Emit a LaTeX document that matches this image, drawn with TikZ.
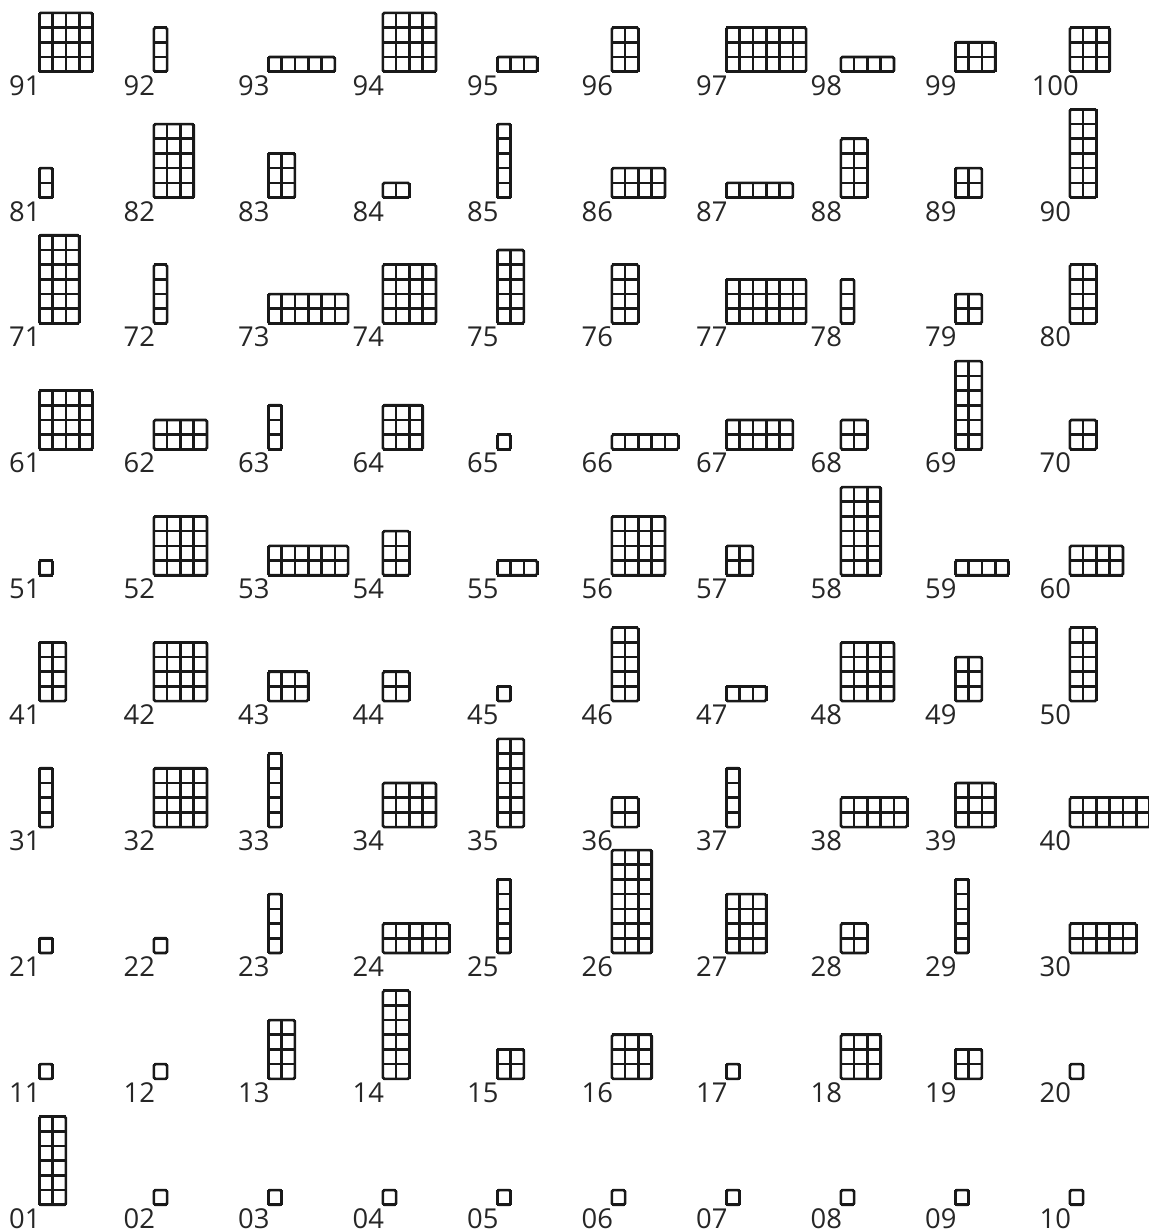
\documentclass[tikz,border=0pt]{standalone}
\usepackage{fontspec}
\setmainfont{Open Sans}
\usepackage{xcolor}
\tikzset{
  numlabel/.style  = {anchor=base, inner sep=0pt, text=black!85,
                      font=\fontsize{13.7}{16}\selectfont},
  blockgrid/.style = {line width=1.3pt, draw=black!90},
  blockedge/.style = {line width=1.3pt, draw=black!90, rounded corners=0.8pt},
}

\begin{document}
\begin{tikzpicture}[x=0.5pt, y=0.5pt]
  \useasboundingbox (0,0) rectangle (1149,1231);
  % number / columns / rows, 01 is bottom left
  \foreach \n/\c/\r in {
      1/2/6, 2/1/1, 3/1/1, 4/1/1, 5/1/1, 6/1/1, 7/1/1, 8/1/1, 9/1/1, 10/1/1,
      11/1/1, 12/1/1, 13/2/4, 14/2/6, 15/2/2, 16/3/3, 17/1/1, 18/3/3, 19/2/2, 20/1/1,
      21/1/1, 22/1/1, 23/1/4, 24/5/2, 25/1/5, 26/3/7, 27/3/4, 28/2/2, 29/1/5, 30/5/2,
      31/1/4, 32/4/4, 33/1/5, 34/4/3, 35/2/6, 36/2/2, 37/1/4, 38/5/2, 39/3/3, 40/6/2,
      41/2/4, 42/4/4, 43/3/2, 44/2/2, 45/1/1, 46/2/5, 47/3/1, 48/4/4, 49/2/3, 50/2/5,
      51/1/1, 52/4/4, 53/6/2, 54/2/3, 55/3/1, 56/4/4, 57/2/2, 58/3/6, 59/4/1, 60/4/2,
      61/4/4, 62/4/2, 63/1/3, 64/3/3, 65/1/1, 66/5/1, 67/5/2, 68/2/2, 69/2/6, 70/2/2,
      71/3/6, 72/1/4, 73/6/2, 74/4/4, 75/2/5, 76/2/4, 77/6/3, 78/1/3, 79/2/2, 80/2/4,
      81/1/2, 82/3/5, 83/2/3, 84/2/1, 85/1/5, 86/4/2, 87/5/1, 88/2/4, 89/2/2, 90/2/6,
      91/4/4, 92/1/3, 93/5/1, 94/4/4, 95/3/1, 96/2/3, 97/6/3, 98/4/1, 99/3/2, 100/3/3}{
    \pgfmathsetmacro{\gx}{39.3+114.5*mod(\n-1,10)}
    \pgfmathsetmacro{\gy}{26.2+125.9*int((\n-1)/10)}
    \node[numlabel] (lbl\n) at (\gx-14.5,\gy-23.5) {\ifnum\n<10 0\fi\n};
    \begin{scope}[shift={(\gx,\gy)}, x=6.65pt, y=7.35pt]
      \foreach \k in {0,...,\c} \draw[blockgrid] (\k,0) -- (\k,\r);
      \foreach \k in {0,...,\r} \draw[blockgrid] (0,\k) -- (\c,\k);
      \draw[blockedge] (0,0) rectangle (\c,\r);
    \end{scope}
  }
\end{tikzpicture}
\end{document}
